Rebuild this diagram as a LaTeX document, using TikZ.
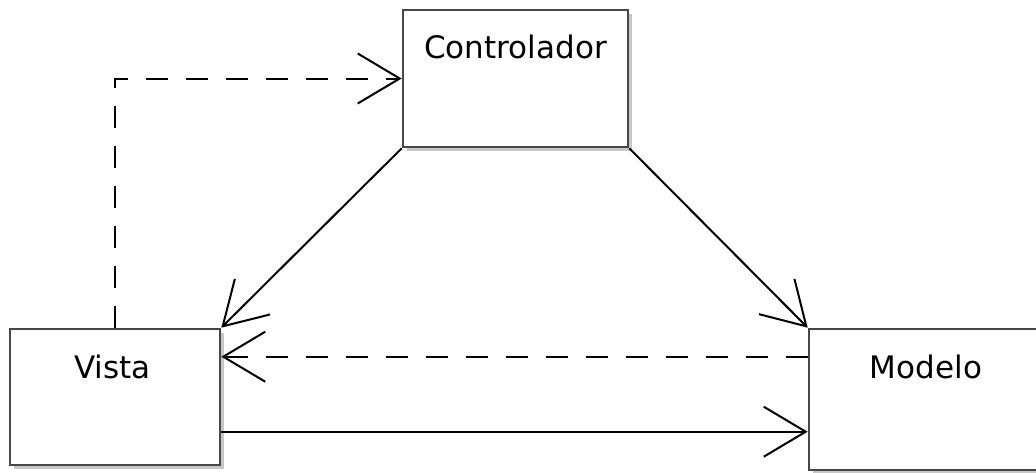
\documentclass[tikz,border=0pt]{standalone}
\usepackage{fontspec}
\setmainfont{DejaVu Sans}
\usetikzlibrary{arrows.meta,shadows}
\definecolor{boxgray}{HTML}{474747}
\begin{document}
\begin{tikzpicture}[x=1pt,y=-1pt,
  box/.style={draw=boxgray, line width=2.6pt, fill=white, inner sep=0pt,
    drop shadow={shadow xshift=4pt,shadow yshift=-4pt,fill=black!22,opacity=1}},
  lbl/.style={font=\fontsize{31}{36}\selectfont, inner sep=0pt, anchor=base},
  conn/.style={line width=2pt, -{Straight Barb[length=42pt,width=50pt,line width=2pt]}},
  dsh/.style={conn, dash pattern=on 22pt off 18pt}]
\useasboundingbox (0,0) rectangle (1036,472);
\clip (0,0) rectangle (1036,472);
\node[box, minimum width=225pt, minimum height=137pt] (ctrl) at (515.5,78.5) {};
\node[box, minimum width=210pt, minimum height=136pt] (vista) at (115,397) {};
\node[box, minimum width=234pt, minimum height=141pt] (modelo) at (926,399.5) {};
\node[lbl] (ctrlt) at (515.5,58) {Controlador};
\node[lbl] (vistat) at (112.5,378) {Vista};
\node[lbl] (modelot) at (926,378) {Modelo};
\draw[dsh] (vista.north) |- (ctrl.west);
\draw[conn] (ctrl.south west) -- (vista.north east);
\draw[conn] (ctrl.south east) -- (modelo.north west);
\draw[dsh] ([yshift=-29pt]modelo.north west) -- ([yshift=-29pt]vista.north east);
\draw[conn] ([yshift=-104pt]vista.north east) -- ([yshift=-104pt]modelo.north west);
\end{tikzpicture}
\end{document}
